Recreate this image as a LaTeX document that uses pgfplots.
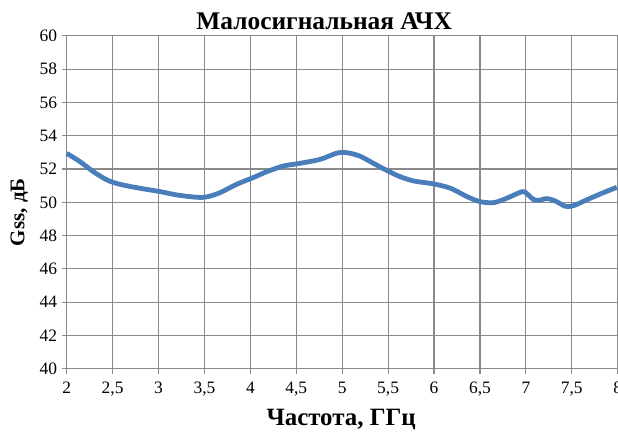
\documentclass[border=0pt]{standalone}
\usepackage{fontspec}
\setmainfont{Liberation Serif}
\usepackage{pgfplots}
\pgfplotsset{compat=1.18}
\definecolor{linecol}{HTML}{4A7EBB}
\definecolor{gridcol}{HTML}{8A8A8A}

\begin{document}
\begin{tikzpicture}[x=1bp,y=1bp]
\useasboundingbox (-66.7,-63.2) rectangle (551.3,368.8);
\begin{axis}[
    at={(0,0)}, anchor=origin,
    scale only axis,
    width=551bp, height=333bp,
    xmin=2, xmax=8, ymin=40, ymax=60,
    xtick={2,2.5,...,8}, ytick={40,42,...,60},
    grid=major,
    grid style={gridcol, line width=1.1bp},
    axis line style={gridcol, line width=1.1bp},
    tick style={gridcol, line width=1.1bp},
    tick align=outside,
    major tick length=5bp,
    xtick pos=bottom, ytick pos=left,
    /pgf/number format/use comma,
    /pgf/number format/assume math mode=true,
    ticklabel style={font=\fontsize{17.5}{17.5}\selectfont, text=black},
    xticklabel style={yshift=-5bp},
    yticklabel style={xshift=-1bp},
    clip=false,
]
\addplot[linecol, line width=4.8bp, smooth, tension=0.5] coordinates {
(2.00,52.94) (2.145,52.44) (2.29,51.84) (2.44,51.34) (2.58,51.08)
(2.80,50.84) (3.02,50.64) (3.20,50.44) (3.42,50.30) (3.53,50.33)
(3.67,50.58) (3.85,51.08) (4.03,51.48) (4.18,51.84) (4.36,52.18)
(4.54,52.34) (4.76,52.58) (4.94,52.95) (5.05,52.98) (5.19,52.78)
(5.34,52.34) (5.49,51.90) (5.63,51.54) (5.78,51.28) (6.00,51.10)
(6.18,50.84) (6.36,50.34) (6.50,50.04) (6.65,49.98) (6.79,50.24)
(6.96,50.64) (7.01,50.52) (7.08,50.18) (7.14,50.12) (7.23,50.22)
(7.32,50.08) (7.43,49.76) (7.52,49.80) (7.66,50.14) (7.81,50.50)
(7.99,50.90)
};
\end{axis}
\node[font=\bfseries\fontsize{25.5}{25.5}\selectfont] at (257.5,348) {Малосигнальная АЧХ};
\node[font=\bfseries\fontsize{25}{25}\selectfont] at (274.5,-51) {Частота, ГГц};
\node[font=\bfseries\fontsize{21}{21}\selectfont, rotate=90] at (-47.5,156.5) {Gss, дБ};
\end{tikzpicture}
\end{document}
